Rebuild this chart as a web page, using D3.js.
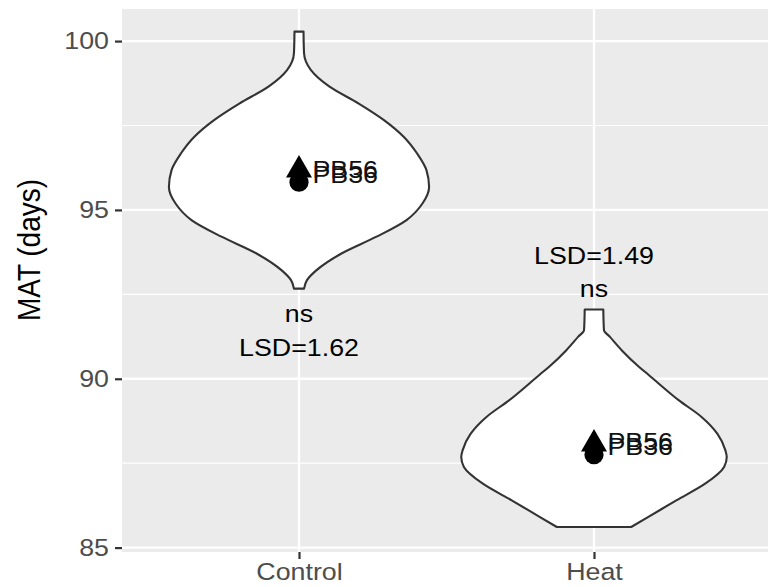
<!DOCTYPE html>
<html>
<head>
<meta charset="utf-8">
<script src="https://cdn.jsdelivr.net/npm/d3@7"></script>
<style>
  body { margin: 0; background: #fff; }
  text { font-family: Arial, "Liberation Sans", sans-serif; }
</style>
</head>
<body>
<svg id="chart" width="768" height="587"></svg>
<script>
// ---- data ----
const categories = ["Control", "Heat"];
const yTicks = [85, 90, 95, 100];
const yMinorTicks = [87.5, 92.5, 97.5];

// violin outlines: MAT level (days) and scaled density (1 = widest)
const controlLevels  = [100.28, 99.64, 99.14, 98.65, 98.15, 97.66, 97.16, 96.67, 96.18, 95.68, 95.19, 94.70, 94.20, 93.71, 93.21, 92.92, 92.67];
const controlDensity = [0.034, 0.038, 0.09, 0.23, 0.45, 0.64, 0.79, 0.89, 0.96, 0.98, 0.93, 0.81, 0.58, 0.32, 0.13, 0.06, 0.038];
const heatLevels     = [92.05, 91.44, 91.24, 90.84, 90.35, 90.12, 89.36, 88.87, 88.37, 87.88, 87.68, 87.39, 86.90, 86.40, 85.91, 85.61];
const heatDensity    = [0.07, 0.075, 0.12, 0.21, 0.34, 0.41, 0.64, 0.81, 0.93, 0.99, 1.0, 0.98, 0.84, 0.62, 0.41, 0.28];

// genotype means per treatment
const genotypes = ["PB56", "PB36"];
const genotypeShapes = ["triangle", "circle"];
const controlMeans = [96.18, 95.82];
const heatMeans = [88.07, 87.75];
// MAT level at which each genotype name is printed
const controlLabelLevels = [96.18, 96.03];
const heatLabelLevels = [88.13, 87.98];

// significance annotations (text and MAT level of the baseline)
const sigText = ["ns", "ns"];
const sigLevel = [91.68, 92.42];
const lsdText = ["LSD=1.62", "LSD=1.49"];
const lsdLevel = [90.67, 93.41];

// ---- layout ----
const panel = { left: 122, right: 771, top: 9, bottom: 552 };
const fontSize = 23.3, stretch = 1.15;

const svg = d3.select("#chart");

const x = d3.scalePoint().domain(categories).range([panel.left, panel.right]).padding(0.6);
const y = d3.scaleLinear().domain([84.87, 100.95]).range([panel.bottom, panel.top]);
const halfWidth = d => d * 0.45 * x.step();

// panel background
svg.append("rect")
  .attr("x", panel.left).attr("y", panel.top)
  .attr("width", panel.right - panel.left).attr("height", panel.bottom - panel.top)
  .attr("fill", "#ebebeb");

const grid = svg.append("g");
grid.selectAll(".minor").data(yMinorTicks).join("line")
  .attr("x1", panel.left).attr("x2", panel.right)
  .attr("y1", d => y(d)).attr("y2", d => y(d))
  .attr("stroke", "#fff").attr("stroke-width", 1.2);
grid.selectAll(".major").data(yTicks).join("line")
  .attr("x1", panel.left).attr("x2", panel.right)
  .attr("y1", d => y(d)).attr("y2", d => y(d))
  .attr("stroke", "#fff").attr("stroke-width", 2.3);
grid.selectAll(".vmajor").data(categories).join("line")
  .attr("x1", d => x(d)).attr("x2", d => x(d))
  .attr("y1", panel.top).attr("y2", panel.bottom)
  .attr("stroke", "#fff").attr("stroke-width", 2.3);

// violins
const violins = [
  { cat: "Control", pts: controlLevels.map((v, i) => ({ v, d: controlDensity[i] })) },
  { cat: "Heat", pts: heatLevels.map((v, i) => ({ v, d: heatDensity[i] })) }
];
violins.forEach(vl => {
  const cx = x(vl.cat);
  const area = d3.area()
    .y(p => y(p.v))
    .x0(p => cx - halfWidth(p.d))
    .x1(p => cx + halfWidth(p.d))
    .curve(d3.curveMonotoneY);
  svg.append("path")
    .attr("d", area(vl.pts))
    .attr("fill", "#fff")
    .attr("stroke", "#333")
    .attr("stroke-width", 2.1)
    .attr("stroke-linejoin", "round");
});

// genotype means
const meanRows = [];
categories.forEach((c, ci) => {
  const vals = ci === 0 ? controlMeans : heatMeans;
  const labs = ci === 0 ? controlLabelLevels : heatLabelLevels;
  genotypes.forEach((g, gi) => meanRows.push({ cat: c, g, shape: genotypeShapes[gi], v: vals[gi], lv: labs[gi] }));
});
const triR = 15, dotR = 9.6;
const triPath = `M0,${-triR}L${triR * Math.sqrt(3) / 2},${triR / 2}L${-triR * Math.sqrt(3) / 2},${triR / 2}Z`;
meanRows.forEach(r => {
  const g = svg.append("g").attr("transform", `translate(${x(r.cat)},${y(r.v)})`);
  if (r.shape === "triangle") g.append("path").attr("d", triPath).attr("fill", "#000");
  else g.append("circle").attr("r", dotR).attr("fill", "#000");
});
meanRows.forEach(r => {
  svg.append("text")
    .attr("transform", `translate(${x(r.cat) + 13.5},${y(r.lv)}) scale(${stretch},1)`)
    .attr("dy", "0.35em")
    .attr("font-size", fontSize)
    .attr("fill", "#111")
    .text(r.g);
});

// significance labels
categories.forEach((c, i) => {
  [[sigText[i], sigLevel[i]], [lsdText[i], lsdLevel[i]]].forEach(([t, lv]) => {
    svg.append("text")
      .attr("transform", `translate(${x(c)},${y(lv)}) scale(${stretch},1)`)
      .attr("text-anchor", "middle")
      .attr("font-size", fontSize)
      .attr("fill", "#000")
      .text(t);
  });
});

// axes
const yAxis = svg.append("g")
  .attr("transform", `translate(${panel.left},0)`)
  .call(d3.axisLeft(y).tickValues(yTicks).tickSize(7).tickPadding(6).tickFormat(d3.format("d")));
yAxis.select(".domain").remove();
yAxis.selectAll(".tick line").attr("stroke", "#333").attr("stroke-width", 2.2);
yAxis.selectAll(".tick text").each(function () {
  const t = d3.select(this);
  const tx = +t.attr("x");
  t.attr("x", null).attr("transform", `translate(${tx},0) scale(${stretch},1)`)
    .attr("font-size", fontSize).attr("fill", "#4d4d4d").attr("font-family", null);
});

const xAxis = svg.append("g")
  .attr("transform", `translate(0,${panel.bottom})`)
  .call(d3.axisBottom(x).tickSize(7).tickPadding(4));
xAxis.select(".domain").remove();
xAxis.selectAll(".tick line").attr("stroke", "#333").attr("stroke-width", 2.2);
xAxis.selectAll(".tick text").each(function () {
  const t = d3.select(this);
  const ty = +t.attr("y");
  t.attr("y", null).attr("transform", `translate(0,${ty}) scale(${stretch},1)`)
    .attr("font-size", fontSize).attr("fill", "#4d4d4d").attr("font-family", null);
});

// y-axis title
svg.append("text")
  .attr("transform", `translate(40,250) scale(${stretch},1) rotate(-90)`)
  .attr("text-anchor", "middle")
  .attr("font-size", 28)
  .attr("fill", "#000")
  .text("MAT (days)");
</script>
</body>
</html>
